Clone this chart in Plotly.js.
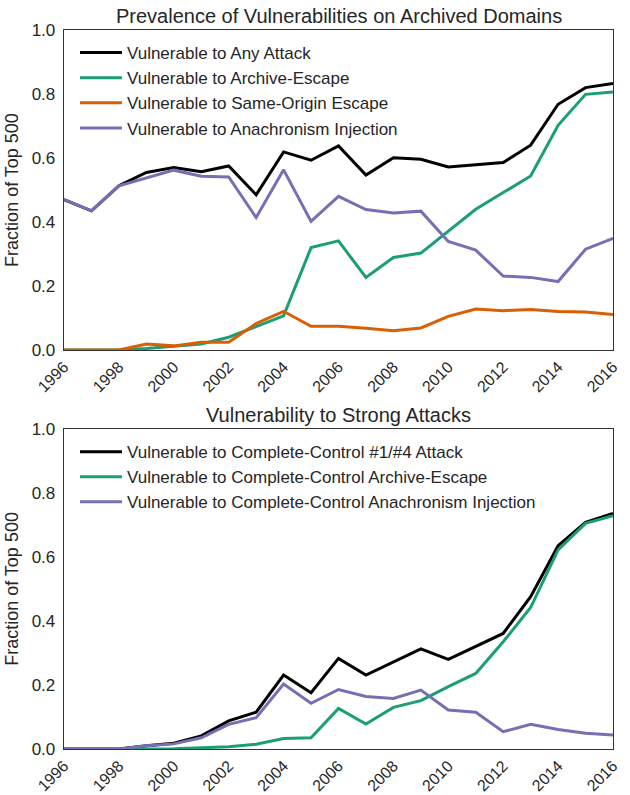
<!DOCTYPE html>
<html>
<head>
<meta charset="utf-8">
<script src="https://cdn.plot.ly/plotly-3.0.1.min.js"></script>
<style>html,body{margin:0;padding:0;background:#fff}#chart{width:630px;height:795px}</style>
</head>
<body>
<div id="chart"></div>
<script>
const years = [1996,1997,1998,1999,2000,2001,2002,2003,2004,2005,2006,2007,2008,2009,2010,2011,2012,2013,2014,2015,2016];

// Top chart
const anyAttack = [0.470,0.435,0.513,0.555,0.570,0.557,0.575,0.485,0.619,0.593,0.638,0.547,0.601,0.596,0.572,0.580,0.586,0.640,0.768,0.820,0.833];
const archiveEscape = [0,0,0,0.005,0.013,0.019,0.040,0.073,0.107,0.320,0.341,0.227,0.289,0.303,0.372,0.440,0.492,0.544,0.702,0.799,0.806];
const sameOrigin = [0,0,0,0.019,0.013,0.024,0.024,0.083,0.121,0.074,0.074,0.068,0.060,0.069,0.105,0.128,0.123,0.127,0.120,0.119,0.111];
const anachronism = [0.471,0.435,0.513,0.537,0.562,0.543,0.541,0.414,0.563,0.402,0.480,0.439,0.428,0.434,0.339,0.312,0.231,0.227,0.214,0.315,0.349];

// Bottom chart
const ccAttack = [0,0,0,0.010,0.018,0.041,0.088,0.115,0.231,0.176,0.283,0.231,0.271,0.313,0.280,0.320,0.361,0.476,0.635,0.708,0.736];
const ccArchiveEscape = [0,0,0,0,0.001,0.004,0.007,0.015,0.033,0.035,0.127,0.078,0.130,0.151,0.195,0.236,0.335,0.442,0.622,0.705,0.729];
const ccAnachronism = [0,0,0,0.010,0.016,0.035,0.077,0.098,0.203,0.143,0.186,0.164,0.158,0.184,0.122,0.115,0.054,0.077,0.061,0.049,0.044];

const topNames = ["Vulnerable to Any Attack","Vulnerable to Archive-Escape","Vulnerable to Same-Origin Escape","Vulnerable to Anachronism Injection"];
const bottomNames = ["Vulnerable to Complete-Control #1/#4 Attack","Vulnerable to Complete-Control Archive-Escape","Vulnerable to Complete-Control Anachronism Injection"];
const titles = ["Prevalence of Vulnerabilities on Archived Domains","Vulnerability to Strong Attacks"];
const xTicks = [1996,1998,2000,2002,2004,2006,2008,2010,2012,2014,2016];
const yTicks = [0,0.2,0.4,0.6,0.8,1.0];
const yTickText = ["0.0","0.2","0.4","0.6","0.8","1.0"];

const cBlack = "#000000", cGreen = "#1b9e77", cOrange = "#d95f02", cPurple = "#7570b3";

function tr(y, name, color, xa, ya, leg) {
  return {x: years, y: y, name: name, type: "scatter", mode: "lines",
    line: {color: color, width: 3}, xaxis: xa, yaxis: ya, legend: leg};
}

const data = [
  tr(anyAttack, topNames[0], cBlack, "x", "y", "legend"),
  tr(archiveEscape, topNames[1], cGreen, "x", "y", "legend"),
  tr(sameOrigin, topNames[2], cOrange, "x", "y", "legend"),
  tr(anachronism, topNames[3], cPurple, "x", "y", "legend"),
  tr(ccAttack, bottomNames[0], cBlack, "x2", "y2", "legend2"),
  tr(ccArchiveEscape, bottomNames[1], cGreen, "x2", "y2", "legend2"),
  tr(ccAnachronism, bottomNames[2], cPurple, "x2", "y2", "legend2")
];

const textColor = "#262626";
function xax(anchor) {
  return {anchor: anchor, range: [1996, 2016], tickvals: xTicks, ticktext: xTicks.map(String),
    tickangle: -45, showgrid: false, zeroline: false, showline: true, mirror: true,
    linecolor: "#333333", linewidth: 1.3, ticks: "", ticklabelstandoff: 0,
    tickfont: {size: 16, color: textColor}};
}
function yax(anchor, dom) {
  return {anchor: anchor, domain: dom, range: [0, 1], tickvals: yTicks, ticktext: yTickText,
    showgrid: false, zeroline: false, showline: true, mirror: true,
    linecolor: "#333333", linewidth: 1.3, ticks: "", ticklabelstandoff: 4,
    tickfont: {size: 17, color: textColor},
    title: {text: "Fraction of Top 500", font: {size: 18, color: textColor}, standoff: 8}};
}

const layout = {
  width: 630, height: 795,
  margin: {l: 64, r: 17, t: 30, b: 46},
  paper_bgcolor: "#ffffff", plot_bgcolor: "#ffffff",
  font: {family: "Liberation Sans, Arial, sans-serif", color: textColor},
  showlegend: true,
  xaxis: xax("y"),
  yaxis: yax("x", [0.5549, 1]),
  xaxis2: xax("y2"),
  yaxis2: yax("x2", [0, 0.4451]),
  legend: {x: 0.02, y: 0.993, xanchor: "left", yanchor: "top", bgcolor: "rgba(0,0,0,0)",
    font: {size: 17, color: textColor}, tracegroupgap: 0, itemwidth: 42},
  legend2: {x: 0.02, y: 0.438, xanchor: "left", yanchor: "top", bgcolor: "rgba(0,0,0,0)",
    font: {size: 17, color: textColor}, tracegroupgap: 0, itemwidth: 42},
  annotations: [
    {text: titles[0], xref: "paper", yref: "paper", x: 0.5, y: 1, yanchor: "bottom", yshift: 1,
      showarrow: false, font: {size: 20, color: textColor}},
    {text: titles[1], xref: "paper", yref: "paper", x: 0.5, y: 0.4451, yanchor: "bottom", yshift: 1,
      showarrow: false, font: {size: 20, color: textColor}}
  ]
};

Plotly.newPlot("chart", data, layout, {displayModeBar: false, staticPlot: true});
</script>
</body>
</html>
